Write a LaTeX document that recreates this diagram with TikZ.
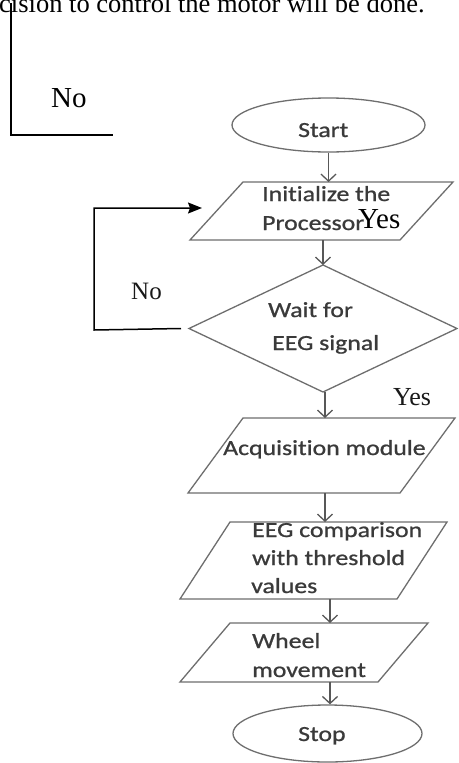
\documentclass[tikz,border=0pt]{standalone}
\usepackage{fontspec}
\setmainfont{Liberation Serif}
\newfontfamily\flowfont[FakeStretch=1.2,FakeBold=0.9,Ligatures=NoCommon]{Carlito}
\usetikzlibrary{arrows.meta,calc,shapes.geometric}
\definecolor{shapeline}{HTML}{6E6E6E}
\definecolor{flowtext}{HTML}{3A3A3A}
\begin{document}
\begin{tikzpicture}[x=1pt,y=-1pt,
  outline/.style={draw=shapeline, line width=1.3pt},
  frame/.style={draw=none, inner sep=0pt, outer sep=0pt},
  oval/.style={ellipse, outline, inner sep=0pt},
  flow/.style={anchor=base west, inner sep=0pt, text=flowtext,
    font=\flowfont\fontsize{21.5}{26}\selectfont},
  serif/.style={anchor=base west, inner sep=0pt, text=black},
  step arrow/.style={draw=shapeline!80!black, line width=1.3pt,
    -{Straight Barb[length=7pt,width=15pt,line width=1.3pt]}},
  back arrow/.style={draw=black, line width=1.5pt,
    -{Stealth[length=14pt,width=11pt,inset=2pt]}}
]
\useasboundingbox (0,0) rectangle (458,763);
\fill[white] (0,0) rectangle (458,763);
\clip (0,0) rectangle (458,763);

% running text and bracket from the surrounding page
\node[serif, font=\fontsize{26.5}{30}\selectfont] (pageline) at (-1,12)
  {cision to control the motor will be done.};
\coordinate (brTop) at (11,3);
\coordinate (brCorner) at (11,135);
\coordinate (brEnd) at (113,135);
\draw[black, line width=1.8pt] (brTop) -- (brCorner) -- (brEnd);
\node[serif, font=\fontsize{29}{32}\selectfont] (noTop) at (51,107) {No};

% terminals
\node[oval, minimum width=193pt, minimum height=54pt] (start) at (328.5,125) {};
\node[oval, minimum width=189pt, minimum height=57pt] (stop) at (327.5,733.5) {};

% parallelogram frames
\node[frame, minimum width=263pt, minimum height=58pt] (proc) at (321.5,211) {};
\node[frame, minimum width=267pt, minimum height=75pt] (acq) at (321.5,455.5) {};
\node[frame, minimum width=267pt, minimum height=77pt] (eeg) at (313.5,560.5) {};
\node[frame, minimum width=248pt, minimum height=59pt] (wheel) at (304,652.5) {};
\draw[outline] ([xshift=53pt]proc.north west) -- (proc.north east)
  -- ([xshift=-53pt]proc.south east) -- (proc.south west) -- cycle;
\draw[outline] ([xshift=55pt]acq.north west) -- (acq.north east)
  -- ([xshift=-55pt]acq.south east) -- (acq.south west) -- cycle;
\draw[outline] ([xshift=50pt]eeg.north west) -- (eeg.north east)
  -- ([xshift=-50pt]eeg.south east) -- (eeg.south west) -- cycle;
\draw[outline] ([xshift=50pt]wheel.north west) -- (wheel.north east)
  -- ([xshift=-50pt]wheel.south east) -- (wheel.south west) -- cycle;

% decision
\node[frame, minimum width=268pt, minimum height=127pt] (wait) at (323,328.5) {};
\draw[outline] (wait.north) -- (wait.east) -- (wait.south) -- (wait.west) -- cycle;

% box texts
\node[flow] (tStart) at (298,137) {Start};
\node[flow] (tProc1) at (262,201) {Initialize the};
\node[flow] (tProc2) at (262,230) {Processor};
\node[flow] (tWait1) at (268,317) {Wait for};
\node[flow] (tWait2) at (272,350) {EEG signal};
\node[flow] (tAcq) at (223,455) {Acquisition module};
\node[flow] (tEeg1) at (252,537) {EEG comparison};
\node[flow] (tEeg2) at (252,565) {with threshold};
\node[flow] (tEeg3) at (251,593) {values};
\node[flow] (tWheel1) at (252,648) {Wheel};
\node[flow] (tWheel2) at (252,677) {movement};
\node[flow] (tStop) at (298,741) {Stop};

% branch labels
\node[serif, font=\fontsize{29}{32}\selectfont] (yesProc) at (358,228) {Yes};
\node[serif, font=\fontsize{26}{30}\selectfont, text=black!90] (yesWait) at (393,405) {Yes};
\node[serif, font=\fontsize{25}{30}\selectfont, text=black!90] (noWait) at (131,299) {No};

% flow connectors
\draw[step arrow] (start.south) -- (start.south |- proc.north);
\draw[step arrow] (wait.north |- proc.south) -- (wait.north);
\draw[step arrow] ([xshift=2pt]wait.south) -- ([xshift=2pt]wait.south |- acq.north);
\draw[step arrow] ([xshift=3.5pt]acq.south) -- ([xshift=3.5pt]acq.south |- eeg.north);
\draw[step arrow] ([xshift=16.5pt]eeg.south) -- ([xshift=16.5pt]eeg.south |- wheel.north);
\draw[step arrow] ([xshift=26pt]wheel.south) -- ([xshift=26pt]wheel.south |- stop.north);

% "No" loop back to the processor
\coordinate (loopLow) at (94,330);
\coordinate (loopHigh) at (94,208);
\coordinate (loopTip) at (202,208);
\draw[back arrow] ([xshift=-8pt]wait.west) -- (loopLow) -- (loopHigh) -- (loopTip);
\end{tikzpicture}
\end{document}
